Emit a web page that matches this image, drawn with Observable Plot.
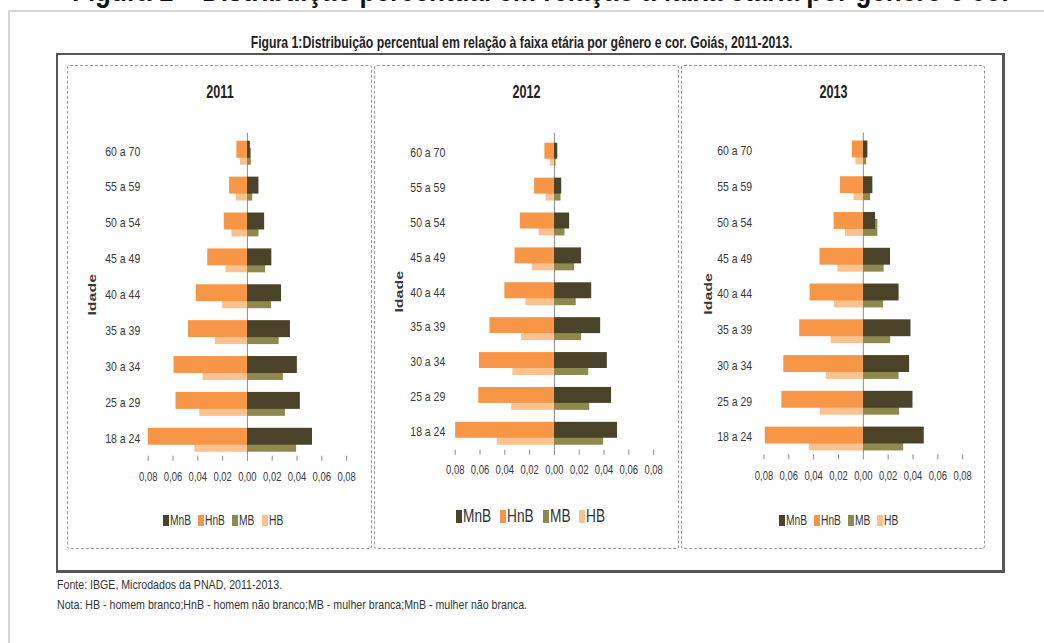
<!DOCTYPE html>
<html>
<head>
<meta charset="utf-8">
<script src="https://cdn.jsdelivr.net/npm/d3@7"></script>
<script src="https://cdn.jsdelivr.net/npm/@observablehq/plot@0.6"></script>
<style>
  html, body { margin: 0; padding: 0; background: #fff; }
  body { width: 1044px; height: 643px; position: relative; overflow: hidden;
         font-family: "Liberation Sans", Arial, sans-serif; color: #333; }
  .abs { position: absolute; }
  .fit { display: inline-block; white-space: nowrap; }
  #head { left: 72px; top: -25px; font: bold 31px/1 "Liberation Sans", Arial, sans-serif; color: #111; white-space: nowrap; }
  #frame { left: 8px; top: 10px; width: 1100px; height: 700px; border-left: 2px solid #d6d6d6; border-top: 2px solid #d6d6d6; }
  #title { left: 0; width: 1044px; top: 32px; text-align: center; font-weight: bold; font-size: 16.5px; line-height: 20px; color: #222; }
  #outer { left: 56px; top: 53px; width: 944px; height: 515px; border: 2px solid #555; border-right-width: 3px; border-bottom-width: 3px; }
  .panel { border: 1.5px dashed #9a9a9a; border-radius: 3px; box-sizing: border-box; }
  .panel svg { position: absolute; left: 0; top: 0; overflow: visible; }
  .ptitle { position: absolute; left: 0; right: 0; top: 16px; text-align: center; font-weight: bold; font-size: 17.5px; line-height: 20px; color: #222; }
  .leg { position: absolute; display: flex; align-items: center; white-space: nowrap; color: #333; }
  .leg .sw { display: inline-block; margin-right: 1px; }
  .leg .tx { display: inline-block; transform-origin: 0 50%; }
  g[aria-label="y-axis label"] text { font-weight: bold; }
  .note { left: 57px; font-size: 13.5px; line-height: 16px; color: #333; }
</style>
</head>
<body>
<div id="head" class="abs"><span class="fit" data-w="940" style="transform-origin:0 50%">Figura 1 – Distribuição percentual em relação à faixa etária por gênero e cor</span></div>
<div id="frame" class="abs"></div>
<div id="title" class="abs"><span class="fit" data-w="542" style="transform-origin:50% 50%">Figura 1:Distribuição percentual em relação à faixa etária por gênero e cor. Goiás, 2011-2013.</span></div>
<div id="outer" class="abs"></div>
<div id="p2011" class="abs panel" style="left:67px;top:65px;width:305px;height:484px"></div>
<div id="p2012" class="abs panel" style="left:374px;top:65px;width:305px;height:484px"></div>
<div id="p2013" class="abs panel" style="left:681px;top:65px;width:304px;height:484px"></div>
<div class="abs note" style="top:577px"><span class="fit" data-w="225" style="transform-origin:0 50%">Fonte: IBGE, Microdados da PNAD, 2011-2013.</span></div>
<div class="abs note" style="top:597px"><span class="fit" data-w="470" style="transform-origin:0 50%">Nota: HB - homem branco;HnB - homem não branco;MB - mulher branca;MnB - mulher não branca.</span></div>
<script>
// ---- data ----
const categorias = ["18 a 24","25 a 29","30 a 34","35 a 39","40 a 44","45 a 49","50 a 54","55 a 59","60 a 70"];
const anos = ["2011","2012","2013"];
const series = ["MnB","HnB","MB","HB"];
const xTicks = [-0.08,-0.06,-0.04,-0.02,0,0.02,0.04,0.06,0.08];

const HnB_2011 = [0.0800,0.0576,0.0592,0.0475,0.0413,0.0320,0.0187,0.0144,0.0085];
const HB_2011  = [0.0424,0.0384,0.0357,0.0259,0.0200,0.0173,0.0125,0.0090,0.0056];
const MnB_2011 = [0.0525,0.0427,0.0403,0.0347,0.0275,0.0197,0.0139,0.0093,0.0024];
const MB_2011  = [0.0397,0.0307,0.0290,0.0256,0.0195,0.0147,0.0093,0.0043,0.0032];

const HnB_2012 = [0.0797,0.0610,0.0605,0.0520,0.0400,0.0317,0.0275,0.0160,0.0077];
const HB_2012  = [0.0461,0.0344,0.0336,0.0264,0.0230,0.0179,0.0123,0.0067,0.0032];
const MnB_2012 = [0.0509,0.0461,0.0427,0.0373,0.0301,0.0219,0.0123,0.0059,0.0027];
const MB_2012  = [0.0397,0.0285,0.0277,0.0219,0.0176,0.0163,0.0085,0.0053,0.0013];

const HnB_2013 = [0.0789,0.0656,0.0640,0.0512,0.0429,0.0349,0.0235,0.0184,0.0088];
const HB_2013  = [0.0435,0.0347,0.0296,0.0259,0.0232,0.0205,0.0144,0.0075,0.0059];
const MnB_2013 = [0.0491,0.0400,0.0373,0.0384,0.0288,0.0219,0.0099,0.0077,0.0037];
const MB_2013  = [0.0325,0.0293,0.0288,0.0221,0.0163,0.0168,0.0117,0.0059,0.0027];

// ---- config ----
const valores = {
  "2011": {MnB: MnB_2011, HnB: HnB_2011, MB: MB_2011, HB: HB_2011},
  "2012": {MnB: MnB_2012, HnB: HnB_2012, MB: MB_2012, HB: HB_2012},
  "2013": {MnB: MnB_2013, HnB: HnB_2013, MB: MB_2013, HB: HB_2013}
};
const cores = {MnB: "#4a4229", HnB: "#f79646", MB: "#8e8a4f", HB: "#fbc290"};
const lado = {MnB: 1, HnB: -1, MB: 1, HB: -1};
const FONT = '"Liberation Sans", Arial, sans-serif';

const layout = {
  "2011": {ml: 80, mr: 25, mb: 92, yPad: 8, xPad: 11, legX: [95,130,164,194], legY: 454, legFont: 14, legSq: 0.73, swW: 6, swH: 11},
  "2012": {ml: 80, mr: 25, mb: 98, yPad: 10, xPad: 10, legX: [81,125,168,204], legY: 450, legFont: 18, legSq: 0.76, swW: 6, swH: 13},
  "2013": {ml: 82, mr: 22, mb: 92, yPad: 12, xPad: 11, legX: [97,132,166,195], legY: 454, legFont: 14, legSq: 0.73, swW: 6, swH: 11}
};

const fmt = d => Math.abs(d).toFixed(2).replace(".", ",");
const ordemY = [...categorias].reverse();

function rows(ano, serie) {
  return categorias.map((c, i) => ({idade: c, serie, v: lado[serie] * valores[ano][serie][i]}));
}

// narrow the rendered glyphs (the source figure uses a condensed face)
function squeeze(svg, sel, f) {
  svg.querySelectorAll(sel).forEach(t => {
    const w = t.getComputedTextLength();
    t.setAttribute("textLength", (w * f).toFixed(2));
    t.setAttribute("lengthAdjust", "spacingAndGlyphs");
  });
}

for (const ano of anos) {
  const L = layout[ano];
  const el = document.getElementById("p" + ano);
  const lower = {insetTop: 15, insetBottom: 4};
  const upper = {insetTop: 8, insetBottom: 11};
  const chart = Plot.plot({
    width: 304, height: 483,
    marginLeft: L.ml, marginRight: L.mr, marginTop: 67, marginBottom: L.mb,
    style: {fontFamily: FONT, fontSize: "12px", color: "#383838", background: "transparent"},
    x: {domain: [-0.08, 0.08]},
    y: {domain: ordemY, padding: 0},
    marks: [
      Plot.ruleX([0], {stroke: "#8a8a8a", strokeWidth: 1}),
      Plot.barX(rows(ano, "MB"), {x1: 0, x2: "v", y: "idade", fill: cores.MB, ...lower}),
      Plot.barX(rows(ano, "HB"), {x1: 0, x2: "v", y: "idade", fill: cores.HB, ...lower}),
      Plot.barX(rows(ano, "MnB"), {x1: 0, x2: "v", y: "idade", fill: cores.MnB, ...upper}),
      Plot.barX(rows(ano, "HnB"), {x1: 0, x2: "v", y: "idade", fill: cores.HnB, ...upper}),
      Plot.axisX({ticks: xTicks, tickFormat: fmt, tickSize: 5, tickPadding: L.xPad, stroke: "#8a8a8a", line: true, fontSize: 12.5, label: null}),
      Plot.axisY({tickSize: 0, tickPadding: L.yPad, fontSize: 13.5, label: "Idade", labelAnchor: "center", labelOffset: 60})
    ]
  });
  el.appendChild(chart);
  squeeze(chart, 'g[aria-label="x-axis tick label"] text', 0.76);
  squeeze(chart, 'g[aria-label="y-axis tick label"] text', 0.78);
  chart.querySelectorAll('g[aria-label="y-axis label"] text').forEach(t => {
    t.style.fontSize = "16px";
    t.style.fontWeight = "bold";
    t.setAttribute("transform", (t.getAttribute("transform") || "") + " scale(1,0.68)");
  });

  const t = document.createElement("div");
  t.className = "ptitle";
  t.innerHTML = `<span class="fit" style="transform:scaleX(0.72);transform-origin:50% 50%">${ano}</span>`;
  el.appendChild(t);

  series.forEach((s, k) => {
    const item = document.createElement("div");
    item.className = "leg";
    item.style.left = L.legX[k] + "px";
    item.style.top = (L.legY - 10) + "px";
    item.style.height = "20px";
    item.style.fontSize = L.legFont + "px";
    const sw = document.createElement("span");
    sw.className = "sw";
    sw.style.width = L.swW + "px";
    sw.style.height = L.swH + "px";
    sw.style.background = cores[s];
    const tx = document.createElement("span");
    tx.className = "tx";
    tx.style.transform = `scaleX(${L.legSq})`;
    tx.textContent = s;
    item.appendChild(sw);
    item.appendChild(tx);
    el.appendChild(item);
  });
}

// fit HTML texts to their measured widths in the source
document.querySelectorAll(".fit[data-w]").forEach(s => {
  const w = s.getBoundingClientRect().width;
  s.style.transform = `scaleX(${(+s.dataset.w / w).toFixed(3)})`;
});
</script>
</body>
</html>
